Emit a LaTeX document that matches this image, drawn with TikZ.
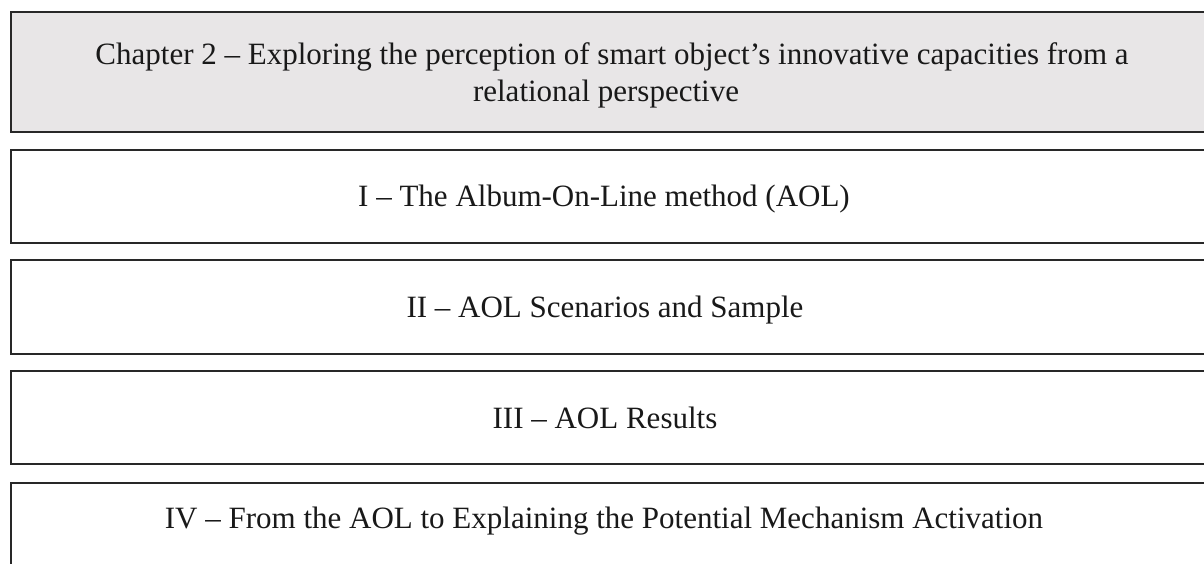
\documentclass[tikz,border=0pt]{standalone}
\usepackage{fontspec}
\setmainfont{Liberation Serif}
\definecolor{boxgray}{RGB}{232,230,231}
\definecolor{edge}{RGB}{40,40,40}
\tikzset{
  secbox/.style={draw=edge, line width=1.6pt, anchor=north west, inner sep=0pt, minimum width=1220pt},
  label/.style={font=\fontsize{31}{37}\selectfont, anchor=base, inner sep=0pt, text=black!90}
}
\begin{document}
\begin{tikzpicture}[x=1pt,y=-1pt]
\useasboundingbox (0,0) rectangle (1204,564);
\clip (0,0) rectangle (1204,564);
\fill[white] (0,0) rectangle (1204,564);
\node[secbox, fill=boxgray, minimum height=120pt] (b1) at (10,11) {};
\node[secbox, minimum height=93pt] (b2) at (10,149) {};
\node[secbox, minimum height=94pt] (b3) at (10,259) {};
\node[secbox, minimum height=93pt] (b4) at (10,370) {};
\node[secbox, minimum height=120pt] (b5) at (10,482) {};
\node[label] (t1a) at (612,65) {Chapter 2 -- Exploring the perception of smart object's innovative capacities from a};
\node[label] (t1b) at (606,102) {relational perspective};
\node[label] (t2) at (604,207) {I -- The Album-On-Line method (AOL)};
\node[label] (t3) at (605,317) {II -- AOL Scenarios and Sample};
\node[label] (t4) at (605,428) {III -- AOL Results};
\node[label] (t5) at (604,528) {IV -- From the AOL to Explaining the Potential Mechanism Activation};
\end{tikzpicture}
\end{document}
